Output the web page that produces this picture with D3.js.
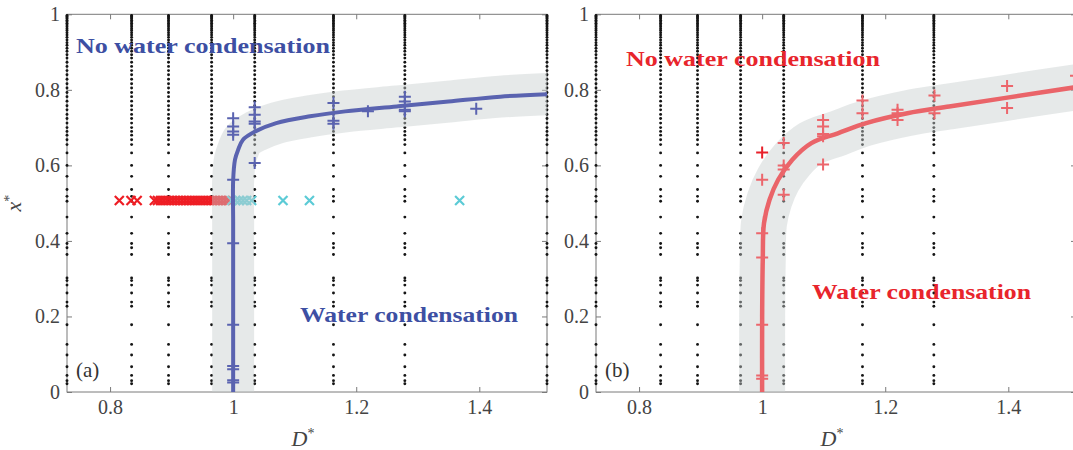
<!DOCTYPE html>
<html><head><meta charset="utf-8">
<script src="https://cdn.jsdelivr.net/npm/d3@7"></script>
<style>body{margin:0;background:#fff}</style>
</head><body><svg id="c" width="1073" height="450"></svg>
<script>
// ---------- data ----------
const xDomain = [0.73, 1.51];
const xTicks = [0.8, 1, 1.2, 1.4];
const xTickLabels = ["0.8", "1", "1.2", "1.4"];
const yTicks = [0, 0.2, 0.4, 0.6, 0.8, 1];
const yTickLabels = ["0", "0.2", "0.4", "0.6", "0.8", "1"];

// simulation grid (black dots)
const gridD = [0.73, 0.835, 0.895, 0.965, 1.035, 1.163, 1.279, 1.51];
const gridX = [0.022, 0.030, 0.044, 0.067, 0.098, 0.126, 0.178, 0.227, 0.238, 0.262, 0.283, 0.295, 0.302,
  0.364, 0.382, 0.393, 0.42, 0.463, 0.505, 0.518, 0.536, 0.571, 0.60, 0.633,
  0.655, 0.668, 0.68, 0.69, 0.70, 0.712, 0.724, 0.735, 0.747, 0.758, 0.77, 0.782, 0.793, 0.805, 0.816,
  0.828, 0.84, 0.851, 0.862, 0.873, 0.884, 0.893, 0.902, 0.91, 0.918, 0.925, 0.932, 0.939, 0.945,
  0.951, 0.957, 0.962, 0.967, 0.972, 0.976, 0.98, 0.984, 0.988, 0.991, 0.994, 0.997];

// panel (a)
const aPlusD = [1, 1, 1, 1, 1, 1, 1, 1, 1, 1, 1,
  1.035, 1.035, 1.035, 1.035, 1.035,
  1.163, 1.163, 1.163, 1.219, 1.279, 1.279, 1.279, 1.279, 1.395];
const aPlusX = [0.025, 0.031, 0.06, 0.069, 0.178, 0.394, 0.562, 0.681, 0.69, 0.703, 0.725,
  0.606, 0.71, 0.716, 0.734, 0.754,
  0.71, 0.718, 0.765, 0.743, 0.743, 0.747, 0.769, 0.782, 0.75];
const aRedCrossD = [0.815, 0.834, 0.844, 0.872, 0.877, 0.882, 0.887, 0.892, 0.897, 0.902, 0.907, 0.912,
  0.917, 0.922, 0.927, 0.932, 0.937, 0.942, 0.947, 0.952, 0.957, 0.962, 0.967, 0.972, 0.977, 0.982, 0.987, 0.992];
const aCyanCrossD = [0.998, 1.004, 1.01, 1.016, 1.022, 1.03, 1.081, 1.124, 1.368];
const aCrossX = 0.507;
const aCurveD = [1.0, 1.0, 1.0, 1.0, 1.003, 1.008, 1.016, 1.036, 1.07, 1.125, 1.182, 1.266, 1.35, 1.434, 1.53];
const aCurveX = [-0.05, 0.2, 0.45, 0.56, 0.615, 0.641, 0.668, 0.69, 0.712, 0.73, 0.743, 0.756, 0.769, 0.782, 0.79];

// panel (b)
const bPlusD = [1, 1, 1, 1, 1, 1, 1.035, 1.035, 1.035, 1.035,
  1.099, 1.099, 1.099, 1.099, 1.099, 1.163, 1.163, 1.22, 1.22, 1.22, 1.28, 1.28, 1.398, 1.398, 1.51];
const bPlusX = [0.035, 0.044, 0.178, 0.356, 0.42, 0.562, 0.522, 0.589, 0.6, 0.659,
  0.602, 0.677, 0.683, 0.703, 0.72, 0.738, 0.772, 0.72, 0.738, 0.747, 0.738, 0.785, 0.752, 0.81, 0.837];
const bStrongPlusD = [1.0];
const bStrongPlusX = [0.634];
const bCurveD = [1.0, 1.0, 1.001, 1.003, 1.012, 1.026, 1.049, 1.08, 1.123, 1.169, 1.236, 1.304, 1.393, 1.53];
const bCurveX = [-0.05, 0.2, 0.35, 0.447, 0.509, 0.562, 0.615, 0.659, 0.685, 0.712, 0.738, 0.756, 0.778, 0.812];

// ---------- drawing ----------
const svg = d3.select("#c");
svg.append("rect").attr("width", 1073).attr("height", 450).attr("fill", "#fff");
const plotTop = 14.3, plotBottom = 392, plotW = 480;
const serif = "'Liberation Serif', 'DejaVu Serif', serif";
const axisCol = "#7a7a7a", labCol = "#444";

function drawPanel(cfg) {
  const x = d3.scaleLinear().domain(xDomain).range([cfg.x0, cfg.x0 + plotW]);
  const y = d3.scaleLinear().domain([0, 1]).range([plotBottom, plotTop]);
  const g = svg.append("g");
  const clipId = "clip" + cfg.id;
  svg.append("clipPath").attr("id", clipId).append("rect")
    .attr("x", cfg.x0).attr("y", plotTop).attr("width", plotW).attr("height", plotBottom - plotTop);

  const styleAxis = sel => {
    sel.select(".domain").remove();
    sel.selectAll("line").attr("stroke", axisCol);
    sel.selectAll("text").attr("font-family", serif).attr("font-size", 20).attr("fill", labCol);
  };
  g.append("g").attr("transform", `translate(0,${plotBottom})`)
    .call(d3.axisBottom(x).tickValues(xTicks).tickFormat((d, i) => xTickLabels[i]).tickSize(-5).tickPadding(8))
    .call(styleAxis);
  g.append("g").attr("transform", `translate(0,${plotTop})`)
    .call(d3.axisTop(x).tickValues(xTicks).tickFormat("").tickSize(-5))
    .call(styleAxis);
  g.append("g").attr("transform", `translate(${cfg.x0},0)`)
    .call(d3.axisLeft(y).tickValues(yTicks).tickFormat((d, i) => yTickLabels[i]).tickSize(-5).tickPadding(7))
    .call(styleAxis);
  g.append("g").attr("transform", `translate(${cfg.x0 + plotW},0)`)
    .call(d3.axisRight(y).tickValues(yTicks).tickFormat("").tickSize(-5))
    .call(styleAxis);
  g.append("rect").attr("x", cfg.x0).attr("y", plotTop).attr("width", plotW).attr("height", plotBottom - plotTop)
    .attr("fill", "none").attr("stroke", axisCol).attr("stroke-width", 1);

  const dots = [];
  gridD.forEach(d => gridX.forEach(v => dots.push([d, v])));
  g.append("g").selectAll("circle").data(dots).join("circle")
    .attr("cx", d => x(d[0])).attr("cy", d => y(d[1])).attr("r", 1.45).attr("fill", "#151515");

  const cross = (sel, col) => sel.attr("d", "M-4.5,-4.5L4.5,4.5M-4.5,4.5L4.5,-4.5")
    .attr("stroke", col).attr("stroke-width", 2.2).attr("fill", "none");
  if (cfg.redCross) {
    g.append("g").selectAll("path").data(cfg.redCross).join("path")
      .attr("transform", d => `translate(${x(d)},${y(aCrossX)})`).call(cross, "#ee1d24");
    g.append("g").selectAll("path").data(cfg.cyanCross).join("path")
      .attr("transform", d => `translate(${x(d)},${y(aCrossX)})`).call(cross, "#5ccbd6");
  }

  const pts = cfg.curveD.map((d, i) => [d, cfg.curveX[i]]);
  const line = d3.line().x(d => x(d[0])).y(d => y(d[1])).curve(d3.curveCatmullRom.alpha(0.5));
  const cg = g.append("g").attr("clip-path", `url(#${clipId})`);
  cg.append("path").attr("d", line(pts)).attr("fill", "none")
    .attr("stroke", "rgb(200,206,206)").attr("stroke-opacity", 0.45)
    .attr("stroke-width", cfg.band).attr("stroke-linejoin", "round");
  cg.append("path").attr("d", line(pts)).attr("fill", "none")
    .attr("stroke", cfg.curveCol).attr("stroke-width", cfg.curveW).attr("stroke-linejoin", "round");

  const plus = (sel, col) => sel.attr("d", "M-6,0L6,0M0,-6L0,6")
    .attr("stroke", col).attr("stroke-width", 2).attr("fill", "none");
  g.append("g").selectAll("path").data(cfg.plusD.map((d, i) => [d, cfg.plusX[i]])).join("path")
    .attr("transform", d => `translate(${x(d[0])},${y(d[1])})`).call(plus, cfg.plusCol);
  if (cfg.strongD) {
    g.append("g").selectAll("path").data(cfg.strongD.map((d, i) => [d, cfg.strongX[i]])).join("path")
      .attr("transform", d => `translate(${x(d[0])},${y(d[1])})`).call(plus, "#e8202a");
  }

  const ann = (txt, xs, xe, yb, col) => g.append("text").text(txt)
    .attr("x", xs).attr("y", yb).attr("textLength", xe - xs).attr("lengthAdjust", "spacingAndGlyphs")
    .attr("font-family", serif).attr("font-weight", "bold").attr("font-size", 22).attr("fill", col);
  ann("No water condensation", cfg.nw[0], cfg.nw[1], cfg.nw[2], cfg.textCol);
  ann("Water condensation", cfg.w[0], cfg.w[1], cfg.w[2], cfg.textCol);

  g.append("text").text(cfg.label).attr("x", cfg.x0 + 9).attr("y", 377)
    .attr("font-family", serif).attr("font-size", 21).attr("fill", "#333");

  const xl = g.append("text").attr("x", cfg.x0 + plotW / 2 - 4).attr("y", 446)
    .attr("text-anchor", "middle").attr("font-family", serif).attr("font-size", 22).attr("fill", labCol);
  xl.append("tspan").attr("font-style", "italic").text("D");
  xl.append("tspan").attr("font-size", 14).attr("dy", -8).text("*");

  if (cfg.ylab) {
    const yl = g.append("text").attr("transform", `translate(21,${(plotTop + plotBottom) / 2}) rotate(-90)`)
      .attr("text-anchor", "middle").attr("font-family", serif).attr("font-size", 22).attr("fill", labCol);
    yl.append("tspan").attr("font-style", "italic").text("x");
    yl.append("tspan").attr("font-size", 14).attr("dy", -7).text("*");
  }
}

drawPanel({
  id: "a", x0: 67, label: "(a)", ylab: true,
  plusD: aPlusD, plusX: aPlusX, plusCol: "#5a63b0",
  redCross: aRedCrossD, cyanCross: aCyanCrossD,
  curveD: aCurveD, curveX: aCurveX, curveCol: "#5a63b0", curveW: 4, band: 42,
  textCol: "#3d4fa3", nw: [76, 330, 53], w: [300, 518, 322]
});
drawPanel({
  id: "b", x0: 596, label: "(b)", ylab: false,
  plusD: bPlusD, plusX: bPlusX, plusCol: "#ec666c", strongD: bStrongPlusD, strongX: bStrongPlusX,
  curveD: bCurveD, curveX: bCurveX, curveCol: "#ea6469", curveW: 4.5, band: 46,
  textCol: "#e8252c", nw: [626, 880, 66], w: [812, 1031, 299]
});
</script></body></html>
